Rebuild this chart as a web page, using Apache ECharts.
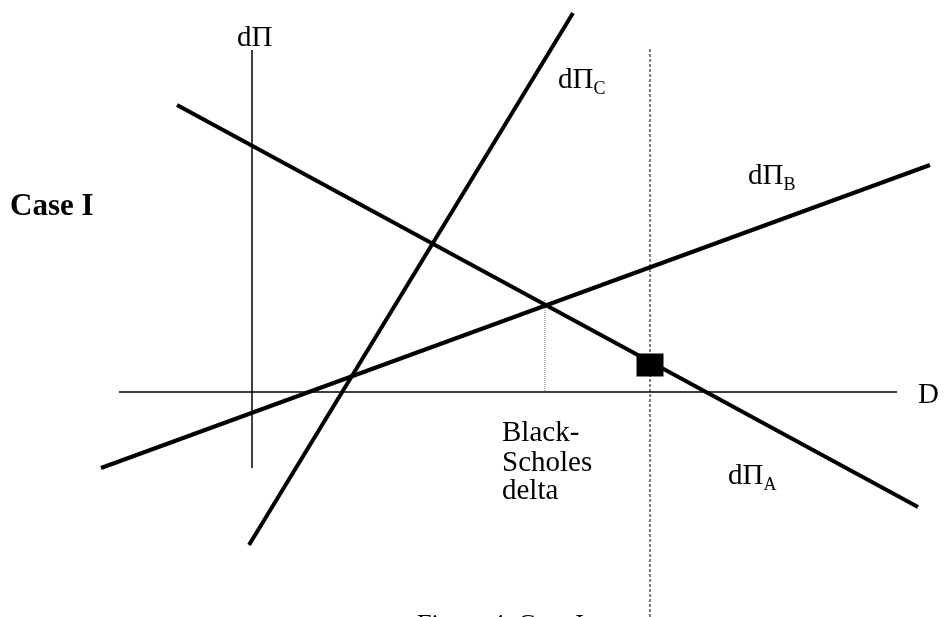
<!DOCTYPE html>
<html>
<head>
<meta charset="utf-8">
<script src="https://cdn.jsdelivr.net/npm/echarts@6/dist/echarts.min.js"></script>
<style>
  html, body { margin: 0; padding: 0; background: #fff; }
  #chart { width: 944px; height: 617px; }
</style>
</head>
<body>
<div id="chart"></div>
<script>
// hedge ratio D on x, dPi on y (origin = where the two axes cross)
const lineA = [[-0.75, 2.87], [6.66, -1.15]];
const lineB = [[-1.51, -0.76], [6.78, 2.27]];
const lineC = [[-0.03, -1.53], [3.21, 3.79]];
const axisD = [[-1.33, 0], [6.45, 0]];
const axisPi = [[0, 3.42], [0, -0.76]];
const bsDelta = [[2.93, 0.92], [2.93, 0]];
const chosenD = [[3.98, 3.43], [3.98, -2.4]];
const chosenPoint = [[3.98, 0.27]];

// text labels: [x, y, text]
const labels = [
  [-0.15, 3.54, '{m|dΠ}'],
  [3.06, 3.12, '{m|dΠ}{s|C}'],
  [4.96, 2.16, '{m|dΠ}{s|B}'],
  [4.76, -0.84, '{m|dΠ}{s|A}'],
  [6.66, -0.03, '{m|D}'],
  [2.50, -0.41, '{m|Black-}'],
  [2.50, -0.71, '{m|Scholes}'],
  [2.50, -0.99, '{m|delta}'],
  [-2.42, 1.85, '{b|Case I}']
];

const serif = 'Liberation Serif';
const chart = echarts.init(document.getElementById('chart'));

function seg(name, data, width, type, color) {
  return {
    name: name,
    type: 'line',
    data: data,
    symbol: 'none',
    silent: true,
    lineStyle: { color: color || '#000', width: width, type: type || 'solid' }
  };
}

const option = {
  animation: false,
  backgroundColor: '#fff',
  title: {
    text: 'Figure 4: Case I',
    left: 417,
    top: 612,
    padding: 0,
    textStyle: { fontFamily: serif, fontSize: 26, fontWeight: 'normal', color: '#000' }
  },
  grid: { left: 0, right: 0, top: 0, bottom: 0 },
  xAxis: { type: 'value', min: -2.52, max: 6.92, show: false },
  yAxis: { type: 'value', min: -2.25, max: 3.92, show: false },
  series: [
    seg('axisD', axisD, 1.5),
    seg('axisPi', axisPi, 1.5),
    seg('bs', bsDelta, 1, 'dotted', '#666'),
    seg('chosen', chosenD, 1, [3, 2]),
    seg('A', lineA, 4),
    seg('B', lineB, 4),
    seg('C', lineC, 4),
    {
      type: 'scatter',
      data: chosenPoint,
      symbol: 'rect',
      symbolSize: [27, 23],
      itemStyle: { color: '#000', opacity: 1 },
      silent: true,
      z: 5
    },
    {
      type: 'scatter',
      data: labels,
      symbolSize: 0,
      silent: true,
      clip: false,
      itemStyle: { opacity: 1 },
      label: {
        show: true,
        position: [0, 0],
        align: 'left',
        verticalAlign: 'middle',
        color: '#000',
        formatter: p => p.data[2],
        rich: {
          m: { fontFamily: serif, fontSize: 29, color: '#000' },
          s: { fontFamily: serif, fontSize: 18, color: '#000', lineHeight: 36, verticalAlign: 'bottom' },
          b: { fontFamily: serif, fontSize: 31, fontWeight: 'bold', color: '#000' }
        }
      }
    }
  ]
};

chart.setOption(option);
</script>
</body>
</html>
